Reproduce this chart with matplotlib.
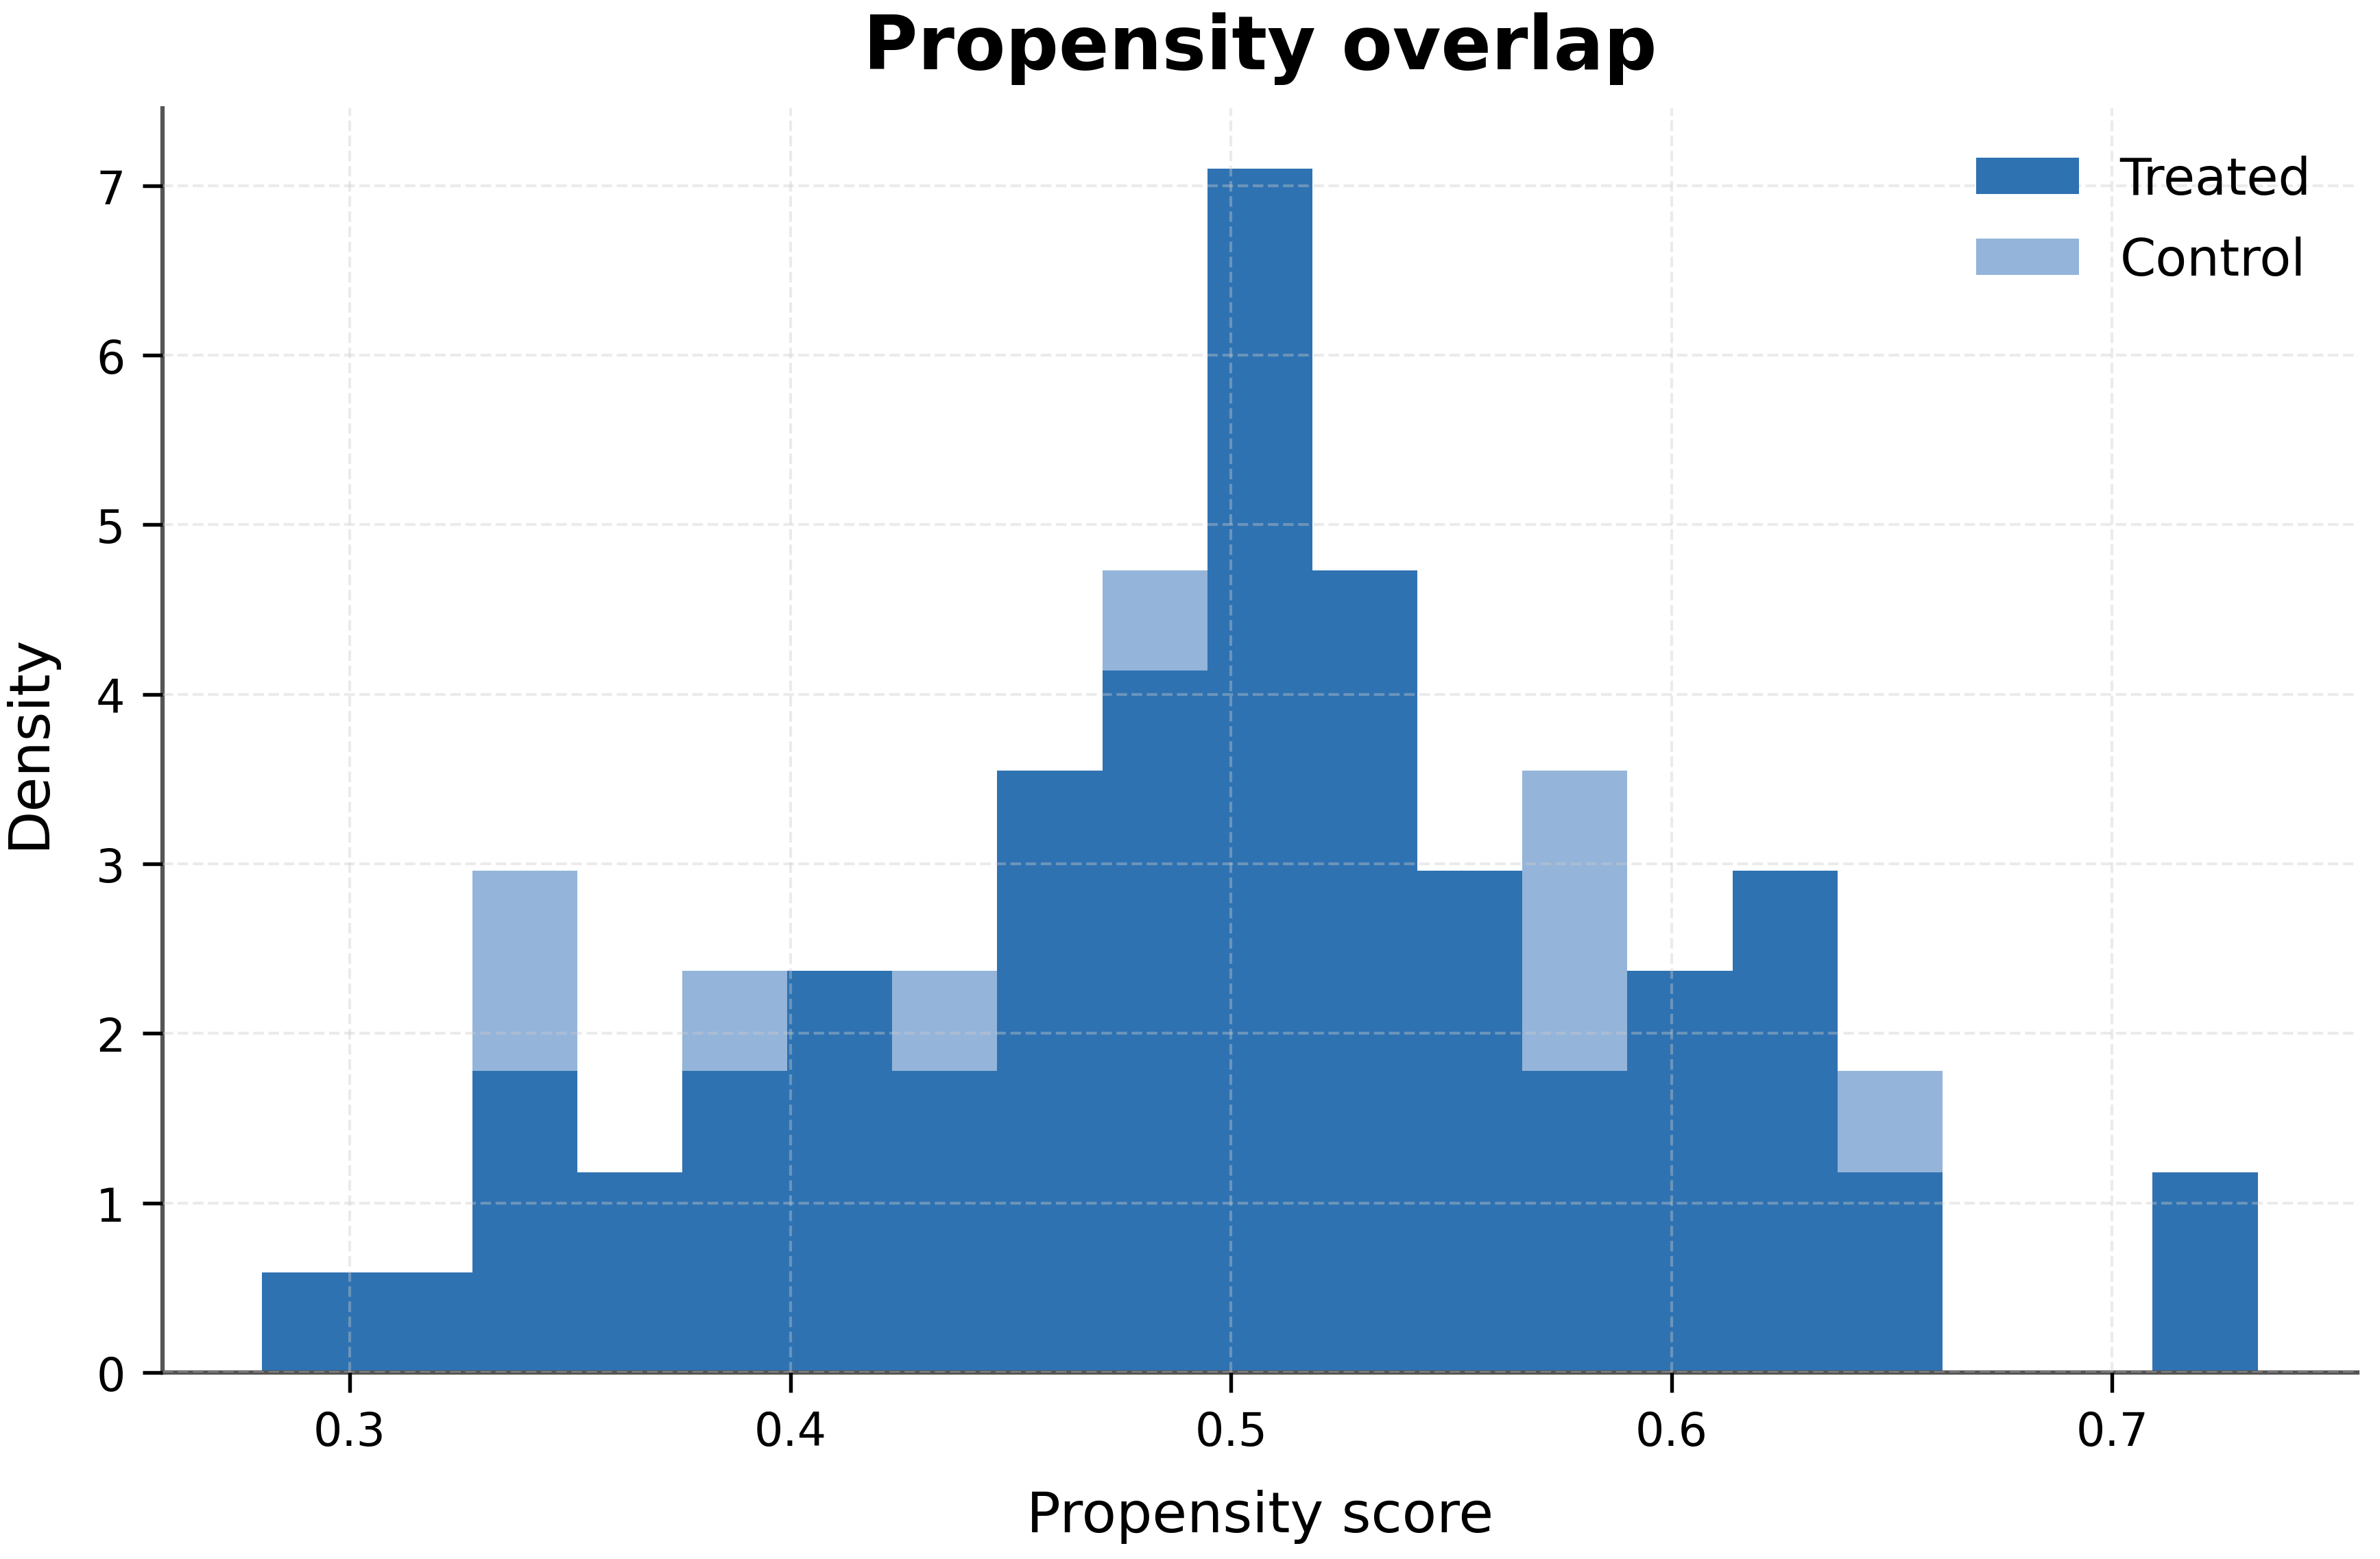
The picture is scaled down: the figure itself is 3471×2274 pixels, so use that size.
import numpy as np
import matplotlib.pyplot as plt

# histogram bins (19 equal bins)
bin_lo = 0.2801
bin_hi = 0.7330
n_bins = 19

# densities per bin
treated_density = [0.59, 0.59, 1.78, 1.18, 1.78, 2.37, 1.78, 3.55, 4.14, 7.10,
                   4.73, 2.96, 1.78, 2.37, 2.96, 1.18, 0.00, 0.00, 1.18]
control_density = [0.59, 0.00, 2.96, 1.18, 2.37, 1.78, 2.37, 2.96, 4.73, 6.51,
                   3.55, 2.96, 3.55, 1.78, 2.37, 1.78, 0.00, 0.00, 0.59]

edges = np.linspace(bin_lo, bin_hi, n_bins + 1)
centers = (edges[:-1] + edges[1:]) / 2

fig, ax = plt.subplots(figsize=(11.57, 7.583), dpi=300)
fig.subplots_adjust(left=0.0682, right=0.9905, bottom=0.1196, top=0.930)

ax.hist(centers, bins=edges, weights=control_density, color="#94b5d9", label="Control", zorder=1)
ax.hist(centers, bins=edges, weights=treated_density, color="#2f72b2", label="Treated", zorder=2)

ax.set_axisbelow(False)
ax.grid(True, linestyle="--", color="#cccccc", alpha=0.38, linewidth=1.0, zorder=3)

ax.set_title("Propensity overlap", fontsize=26, fontweight="bold", pad=14)
ax.set_xlabel("Propensity score", fontsize=19.8, labelpad=12)
ax.set_ylabel("Density", fontsize=19.8, labelpad=14)
ax.tick_params(labelsize=16, length=7, width=1.3, pad=6)

for side in ["top", "right"]:
    ax.spines[side].set_visible(False)
for side in ["left", "bottom"]:
    ax.spines[side].set_color("#555555")
    ax.spines[side].set_linewidth(1.5)

handles, labels = ax.get_legend_handles_labels()
ax.legend(handles[::-1], labels[::-1], frameon=False, fontsize=18, loc="upper right",
          labelspacing=0.6)

fig.savefig("out.png")
